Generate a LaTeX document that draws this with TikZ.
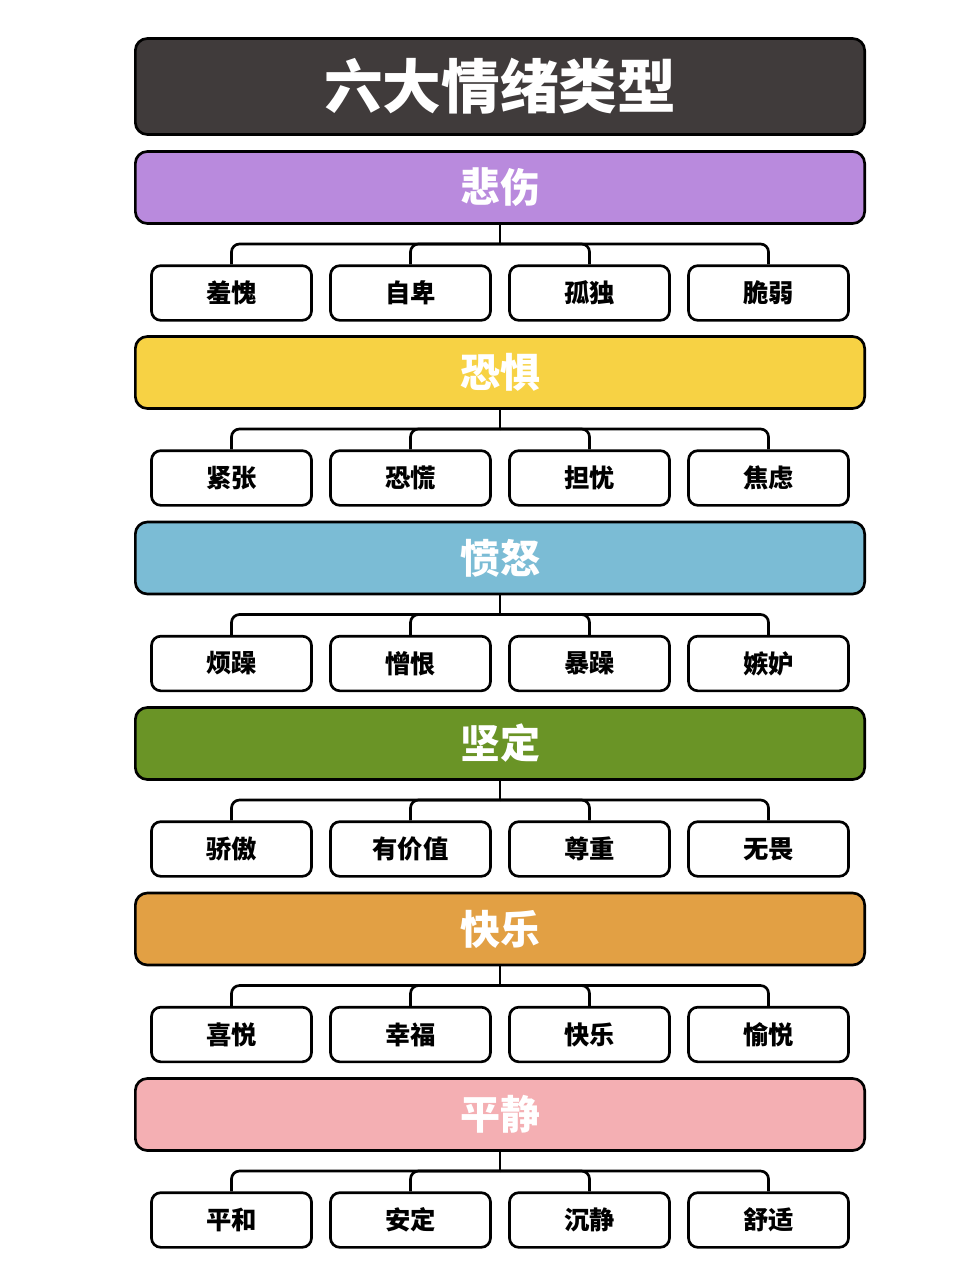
\documentclass[tikz,border=0pt]{standalone}
\usepackage{fontspec}
\usepackage{tikz}
\usetikzlibrary{positioning}
\newfontfamily\cjk{Noto Sans CJK SC}
\definecolor{titlegrey}{HTML}{403B3B}
\definecolor{sadpurple}{HTML}{B98ADD}
\definecolor{fearyellow}{HTML}{F7D244}
\definecolor{angerblue}{HTML}{7BBCD5}
\definecolor{firmgreen}{HTML}{6A9426}
\definecolor{joyorange}{HTML}{E2A044}
\definecolor{calmpink}{HTML}{F4AFB3}
\tikzset{
  titlebox/.style={draw=black, line width=2pt, rounded corners=9pt, fill=titlegrey,
    minimum width=547pt, minimum height=72pt, text=white, font=\cjk\bfseries\fontsize{44}{48}\selectfont},
  catbox/.style={draw=black, line width=2pt, rounded corners=9pt,
    minimum width=547pt, minimum height=54pt, text=white, font=\cjk\bfseries\fontsize{30}{34}\selectfont},
  kindbox/.style={draw=black, line width=2pt, rounded corners=7pt, fill=white,
    minimum width=120pt, minimum height=41pt, font=\cjk\bfseries\fontsize{19}{22}\selectfont},
  branch/.style={draw=black, line width=2pt, rounded corners=6pt}
}
\begin{document}
\begin{tikzpicture}[x=0.75pt,y=-0.75pt]
\useasboundingbox (0,0) rectangle (960,1280);
\node[titlebox] (title) at (500,86.5) {六大情绪类型};
% sadness
\node[catbox, fill=sadpurple] (sad) at (500,187.5) {悲伤};
\coordinate (sadhub) at (500,244);
\node[kindbox] (sad1) at (231.5,293) {羞愧};
\node[kindbox] (sad2) at (410.5,293) {自卑};
\node[kindbox] (sad3) at (589.5,293) {孤独};
\node[kindbox] (sad4) at (768.5,293) {脆弱};
\draw[branch] (sad.south) -- (sadhub);
\draw[branch] (sadhub) -| (sad1.north);
\draw[branch] (sadhub) -| (sad2.north);
\draw[branch] (sadhub) -| (sad3.north);
\draw[branch] (sadhub) -| (sad4.north);
% fear
\node[catbox, fill=fearyellow] (fear) at (500,372.5) {恐惧};
\coordinate (fearhub) at (500,429);
\node[kindbox] (fear1) at (231.5,478) {紧张};
\node[kindbox] (fear2) at (410.5,478) {恐慌};
\node[kindbox] (fear3) at (589.5,478) {担忧};
\node[kindbox] (fear4) at (768.5,478) {焦虑};
\draw[branch] (fear.south) -- (fearhub);
\draw[branch] (fearhub) -| (fear1.north);
\draw[branch] (fearhub) -| (fear2.north);
\draw[branch] (fearhub) -| (fear3.north);
\draw[branch] (fearhub) -| (fear4.north);
% anger
\node[catbox, fill=angerblue] (anger) at (500,558) {愤怒};
\coordinate (angerhub) at (500,614.5);
\node[kindbox] (anger1) at (231.5,663.5) {烦躁};
\node[kindbox] (anger2) at (410.5,663.5) {憎恨};
\node[kindbox] (anger3) at (589.5,663.5) {暴躁};
\node[kindbox] (anger4) at (768.5,663.5) {嫉妒};
\draw[branch] (anger.south) -- (angerhub);
\draw[branch] (angerhub) -| (anger1.north);
\draw[branch] (angerhub) -| (anger2.north);
\draw[branch] (angerhub) -| (anger3.north);
\draw[branch] (angerhub) -| (anger4.north);
% firmness
\node[catbox, fill=firmgreen] (firm) at (500,743.5) {坚定};
\coordinate (firmhub) at (500,800);
\node[kindbox] (firm1) at (231.5,849) {骄傲};
\node[kindbox] (firm2) at (410.5,849) {有价值};
\node[kindbox] (firm3) at (589.5,849) {尊重};
\node[kindbox] (firm4) at (768.5,849) {无畏};
\draw[branch] (firm.south) -- (firmhub);
\draw[branch] (firmhub) -| (firm1.north);
\draw[branch] (firmhub) -| (firm2.north);
\draw[branch] (firmhub) -| (firm3.north);
\draw[branch] (firmhub) -| (firm4.north);
% joy
\node[catbox, fill=joyorange] (joy) at (500,929) {快乐};
\coordinate (joyhub) at (500,985.5);
\node[kindbox] (joy1) at (231.5,1034.5) {喜悦};
\node[kindbox] (joy2) at (410.5,1034.5) {幸福};
\node[kindbox] (joy3) at (589.5,1034.5) {快乐};
\node[kindbox] (joy4) at (768.5,1034.5) {愉悦};
\draw[branch] (joy.south) -- (joyhub);
\draw[branch] (joyhub) -| (joy1.north);
\draw[branch] (joyhub) -| (joy2.north);
\draw[branch] (joyhub) -| (joy3.north);
\draw[branch] (joyhub) -| (joy4.north);
% calm
\node[catbox, fill=calmpink] (calm) at (500,1114.5) {平静};
\coordinate (calmhub) at (500,1171);
\node[kindbox] (calm1) at (231.5,1220) {平和};
\node[kindbox] (calm2) at (410.5,1220) {安定};
\node[kindbox] (calm3) at (589.5,1220) {沉静};
\node[kindbox] (calm4) at (768.5,1220) {舒适};
\draw[branch] (calm.south) -- (calmhub);
\draw[branch] (calmhub) -| (calm1.north);
\draw[branch] (calmhub) -| (calm2.north);
\draw[branch] (calmhub) -| (calm3.north);
\draw[branch] (calmhub) -| (calm4.north);
\end{tikzpicture}
\end{document}
